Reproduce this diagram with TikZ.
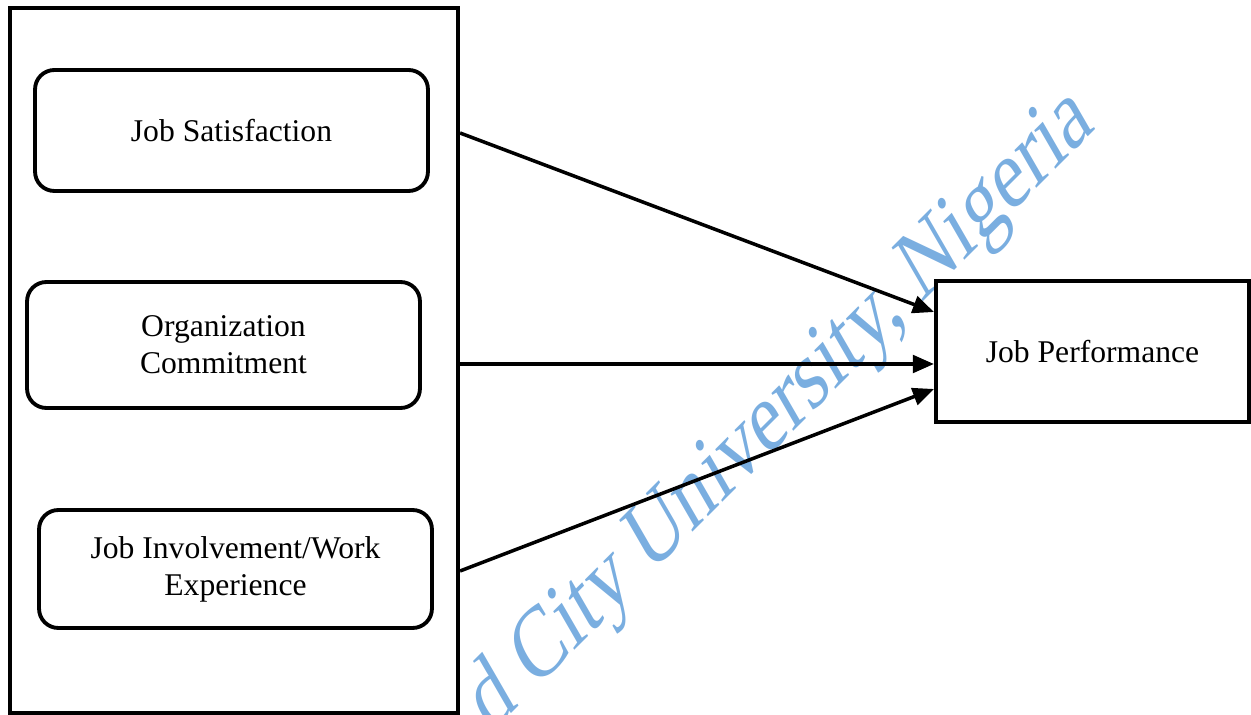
\documentclass[tikz,border=0pt]{standalone}
\usepackage{fontspec}
\setmainfont{Liberation Serif}
\usetikzlibrary{positioning, arrows.meta}

\definecolor{markblue}{RGB}{122,174,224}

\tikzset{
  varbox/.style={draw, line width=2.2pt, rounded corners=11pt,
                 minimum width=7.86cm, minimum height=2.42cm,
                 align=center, font=\fontsize{18}{21}\selectfont},
  outcome/.style={draw, line width=2.4pt,
                  minimum width=6.26cm, minimum height=2.82cm,
                  align=center, font=\fontsize{18}{21}\selectfont},
  link/.style={line width=2pt, -{Triangle[length=12pt, width=10pt]}}
}

\begin{document}
\begin{tikzpicture}[x=0.02cm, y=-0.02cm]
  \useasboundingbox (0,0) rectangle (1251,715);

  % watermark
  \node[text=markblue, cm={0.707,0.707,-0.575,0.996,(0,0)}, anchor=base east, inner sep=0pt,
        font=\fontsize{47}{47}\selectfont] (mark) at (1097,128)
      {d City University, Nigeria};

  % predictors
  \node[draw, line width=2.4pt, minimum width=8.96cm, minimum height=14.1cm] (group) at (234,360.5) {};
  \node[varbox] (js) at (231.5,130.5) {Job Satisfaction};
  \node[varbox, minimum height=2.52cm] (oc) at (223.5,345) {Organization\\Commitment};
  \node[varbox, minimum height=2.36cm] (ji) at (235.5,569) {Job Involvement/Work\\Experience};

  % outcome
  \node[outcome] (perf) at (1092.5,351.5) {Job Performance};

  \draw[link] (group.east |- 0,133) -- (perf.west |- 0,312);
  \draw[link] (group.east |- 0,364) -- (perf.west |- 0,364);
  \draw[link] (group.east |- 0,571) -- (perf.west |- 0,389);
\end{tikzpicture}
\end{document}
